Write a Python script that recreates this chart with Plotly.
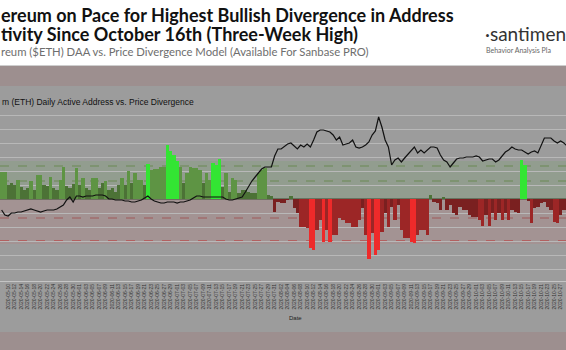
import pandas as pd
import plotly.graph_objects as go

# ---------------- data ----------------
start_date = "2020-05-08"
n_days = 175
dates = pd.date_range(start_date, periods=n_days, freq="D")

# DAA vs price divergence score (daily)
divergence = [
    2.7, 2.7, 1.4, 1.6, 1.4, 1.9, 1.2, 0.9, 1.1, 1.8, 0.9, 2.4, 2.4, 1.4, 1.3, 2.2, 1.1, 0.9, 1.9, 3.2,
    1.3, 1.1, 1.5, 3.1, 1.4, 2.1, 1.1, 0.9, 2.1, 2.1, 1.1, 1.6, 1.8, 0.9, 1.1, 0.7, 1.4,
    2.1, 1.4, 2.8, 1.6, 2.6, 1.9, 1.9, 1.4, 3.5, 2.9, 3.0, 3.0, 3.2, 3.2, 5.4, 4.8, 4.4, 3.8, 3.2,
    1.6, 2.6, 3.2, 3.1, 3.1, 2.9, 1.6, 2.6, 1.9, 3.6, 3.4, 4.0, 1.2, 2.6, 0.7, 2.1, 1.9, 0.6, 0.9,
    0.9, 0.7, 0.6, 0.6, 2.6, 2.9, 3.1, 0.4, 0.3,
    -1.3, -0.3, -0.4, -0.4, -0.1, 0.3, -0.9, -1.4, -2.8, -2.8, -2.9, -4.9, -5.1, -3.1, -2.1, -4.3,
    -3.1, -4.3, -3.6, -3.6, -1.9, -2.1, -2.4, -2.4, -2.8, -2.8, -2.1, -0.9, -3.6, -6.0, -3.4, -5.6,
    -5.1, -3.3, -1.4, -2.8, -0.8, -2.1, -0.6, -3.1, -3.9, -3.9, -4.3, -4.4, -3.6, -3.1, -3.1, -3.6,
    0.4, -0.3, -0.4, -1.1, 0.2, -1.1, -0.6, -1.4, -1.6, -0.8, -1.1, -1.1, -1.6, -1.8, -1.8, -2.1,
    -2.7, -1.6, -2.7, -1.4, -2.1, -1.4, -2.1, -1.4, -2.1, -1.1, -1.3, -1.4, 3.9, 3.4, -0.2, -2.4,
    -0.9, -0.8, -0.4, -0.3, -0.8, -1.1, -2.3, -2.4, -1.6, -1.1, -0.8,
]

# ETH price, USD (daily)
price = [
    197, 182, 179, 188, 188, 191, 191, 194, 197, 200, 197, 194, 191, 194, 197, 197, 197, 200, 206, 212,
    227, 236, 221, 239, 239, 236, 239, 239, 239, 242, 242, 242, 239, 230, 230, 227, 227, 227, 224, 224,
    221, 221, 224, 227, 233, 239, 230, 224, 221, 218, 218, 221, 221, 221, 218, 221, 221, 224, 227, 233,
    239, 239, 236, 236, 236, 236, 236, 236, 236, 230, 227, 227, 230, 233, 236, 251, 269, 284, 296, 308,
    320, 326, 326, 326, 359, 380, 380, 389, 395, 398, 389, 380, 392, 386, 395, 386, 407, 431, 437, 437,
    434, 431, 422, 407, 416, 392, 395, 398, 407, 386, 383, 386, 392, 401, 422, 434, 476, 446, 407, 386,
    332, 347, 353, 341, 353, 365, 377, 386, 368, 377, 368, 377, 386, 386, 383, 362, 347, 341, 326, 338,
    350, 353, 353, 356, 356, 356, 359, 356, 344, 347, 350, 350, 341, 347, 359, 371, 377, 386, 380, 377,
    377, 371, 365, 371, 374, 368, 389, 413, 413, 413, 404, 398, 404, 398, 389,
]

# thresholds drawn as dashed lines
bull_levels = [1.8, 3.3]
bear_levels = [-1.9, -4.2]
grid_levels = [-7.0, -5.6, -4.2, -2.8, -1.4, 1.4, 2.8, 4.2, 5.6, 7.0, 8.4]

assert len(divergence) == n_days and len(price) == n_days

# ---------------- styling ----------------
W, H = 566, 350
PLOT_TOP, PLOT_BOTTOM = 86, 281
GRAY = "#9c9c9c"


def py(p):
    """pixel row -> paper y"""
    return (PLOT_BOTTOM - p) / (PLOT_BOTTOM - PLOT_TOP)


def bar_color(v):
    if v >= 0:
        if v >= bull_levels[1]:
            return "#33e533"
        if v >= bull_levels[0]:
            return "#5e9444"
        return "#4c7236"
    if v <= bear_levels[1]:
        return "#ee2a2a"
    if v <= bear_levels[0]:
        return "#9c2626"
    return "#7a2020"


colors = [bar_color(v) for v in divergence]

fig = go.Figure()
fig.add_trace(go.Bar(x=dates, y=divergence, marker=dict(color=colors, line=dict(width=0)),
                     yaxis="y", showlegend=False))
fig.add_trace(go.Scatter(x=dates, y=price, mode="lines", line=dict(color="#111111", width=1.2),
                         yaxis="y2", showlegend=False))

x_start = pd.Timestamp(start_date) - pd.Timedelta(hours=12)
x_end = x_start + pd.Timedelta(days=W / 3.25)

shapes = []
# header white area and pinkish bands
shapes.append(dict(type="rect", xref="paper", yref="paper", x0=-0.01, x1=1.01, y0=py(65.5), y1=py(-2),
                   fillcolor="white", line=dict(width=0), layer="below"))
shapes.append(dict(type="rect", xref="paper", yref="paper", x0=-0.01, x1=1.01, y0=py(86), y1=py(66),
                   fillcolor="#9d8f8f", line=dict(width=0), layer="below"))
shapes.append(dict(type="rect", xref="paper", yref="paper", x0=-0.01, x1=1.01, y0=py(352), y1=py(332),
                   fillcolor="#9d8f8f", line=dict(width=0), layer="below"))
# bull / bear zones
shapes.append(dict(type="rect", xref="paper", yref="y", x0=0, x1=1, y0=0, y1=3.8,
                   fillcolor="#929d8f", line=dict(width=0), layer="below"))
shapes.append(dict(type="rect", xref="paper", yref="y", x0=0, x1=1, y0=-4.5, y1=0,
                   fillcolor="#a39393", line=dict(width=0), layer="below"))
for lv, c in zip(bull_levels, ["#6b8a55", "#6b8a55"]):
    shapes.append(dict(type="line", xref="paper", yref="y", x0=0, x1=1, y0=lv, y1=lv,
                       line=dict(color=c, width=1.2, dash="dash"), layer="below"))
for lv, c in zip(bear_levels, ["#a05a5a", "#c22e2e"]):
    shapes.append(dict(type="line", xref="paper", yref="y", x0=0, x1=1, y0=lv, y1=lv,
                       line=dict(color=c, width=1.2, dash="dash"), layer="below"))
shapes.append(dict(type="line", xref="paper", yref="y", x0=0, x1=1, y0=0, y1=0,
                   line=dict(color="#3a4a30", width=1), layer="below"))

annotations = [
    dict(text="<b>ereum on Pace for Highest Bullish Divergence in Address</b>", x=-1 / W, y=py(15),
         xanchor="left", yanchor="middle", font=dict(family="Lato", size=18, color="#111111")),
    dict(text="<b>tivity Since October 16th (Three-Week High)</b>", x=-1 / W, y=py(34),
         xanchor="left", yanchor="middle", font=dict(family="Lato", size=18, color="#111111")),
    dict(text="reum ($ETH) DAA vs. Price Divergence Model (Available For Sanbase PRO)", x=-1 / W, y=py(51.5),
         xanchor="left", yanchor="middle", font=dict(family="Lato", size=11.3, color="#6e6e6e")),
    dict(text="·santimen", x=483 / W, y=py(33), xanchor="left", yanchor="middle",
         font=dict(family="Lato", size=19, color="#333333")),
    dict(text="Behavior Analysis Pla", x=484 / W, y=py(50), xanchor="left", yanchor="middle",
         font=dict(family="Lato", size=7, color="#666666")),
    dict(text="m (ETH) Daily Active Address vs. Price Divergence", x=0, y=py(102), xanchor="left",
         yanchor="middle", font=dict(family="Liberation Sans", size=8.5, color="#111111")),
    dict(text="Date", x=295 / W, y=py(318), xanchor="center", yanchor="middle",
         font=dict(family="Liberation Sans", size=6, color="#222222")),
]
for a in annotations:
    a.update(xref="paper", yref="paper", showarrow=False)

fig.update_layout(
    width=W, height=H,
    margin=dict(l=0, r=0, t=PLOT_TOP, b=H - PLOT_BOTTOM, pad=0),
    paper_bgcolor=GRAY, plot_bgcolor="rgba(0,0,0,0)",
    bargap=0,
    shapes=shapes, annotations=annotations,
    xaxis=dict(type="date", range=[x_start, x_end], tickformat="%Y-%m-%d", tick0=start_date,
               dtick=2 * 86400000, tickangle=-90, tickfont=dict(family="Liberation Sans", size=5, color="#333333"),
               showgrid=False, zeroline=False, showline=True, linecolor="#c4c4c4", linewidth=1,
               ticks="", automargin=False),
    yaxis=dict(range=[-8.2, 11.3], tickvals=grid_levels, showticklabels=False, showgrid=True,
               gridcolor="#b8b8b8", gridwidth=1, zeroline=False, ticks="", automargin=False),
    yaxis2=dict(range=[-16, 569], overlaying="y", visible=False, showgrid=False),
)

fig.write_html("out.html")
